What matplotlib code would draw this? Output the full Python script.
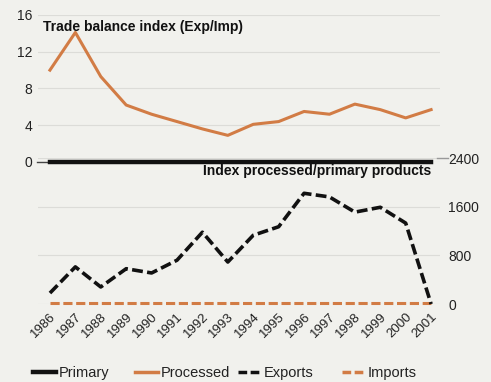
import matplotlib
matplotlib.use("Agg")
import matplotlib.pyplot as plt
from matplotlib.lines import Line2D

plt.rcParams["font.family"] = ["Liberation Sans", "DejaVu Sans"]

years = list(range(1986, 2002))
year_labels = [str(y) for y in years]
trade_balance = [10.0, 14.1, 9.3, 6.2, 5.2, 4.4, 3.6, 2.9, 4.1, 4.4, 5.5, 5.2, 6.3, 5.7, 4.8, 5.7]
primary_line = [0] * 16
exports = [180, 610, 280, 580, 510, 720, 1180, 690, 1130, 1270, 1820, 1760, 1510, 1590, 1330, 0]
imports = [20] * 16

top_ticks = [0, 4, 8, 12, 16]
bot_ticks = [0, 800, 1600, 2400]
legend_labels = ["Primary", "Processed", "Exports", "Imports"]

bg = "#f1f1ed"
orange = "#d27c45"
grid = "#dcdcd8"
dash = (0, (3, 1.2))

fig = plt.figure(figsize=(4.91, 3.82), dpi=100, facecolor=bg)
W, H = 491, 382
xl, xr = 38, 440
x0, x1 = 1985.53, 2001.35

def ax_rect(left, right, top, bottom):
    return [left / W, (H - bottom) / H, (right - left) / W, (bottom - top) / H]

ax1 = fig.add_axes(ax_rect(xl, xr, 15, 162))
ax2 = fig.add_axes(ax_rect(xl, xr, 158, 304))
for ax in (ax1, ax2):
    ax.set_facecolor("none")
    for s in ax.spines.values():
        s.set_visible(False)
    ax.set_xlim(x0, x1)

# top panel
ax1.set_ylim(0, 16)
ax1.set_yticks(top_ticks)
ax1.set_yticklabels([str(t) for t in top_ticks], fontsize=10, color="#222222")
ax1.tick_params(axis="y", length=0, pad=4)
ax1.set_xticks([])
for t in top_ticks:
    ax1.axhline(t, color=grid, lw=0.8, zorder=0)
ax1.plot([x0 - 0.05, x0 + 0.35], [0, 0], color="#444444", lw=1, clip_on=False)
ax1.plot(years, trade_balance, color=orange, lw=2.2, zorder=3, clip_on=False)
ax1.plot(years, primary_line, color="#111111", lw=3.2, zorder=4, clip_on=False)
ax1.text(1985.72, 14.3, "Trade balance index (Exp/Imp)", fontsize=10, fontweight="bold",
         color="#111111", zorder=5)

# bottom panel
ax2.set_ylim(0, 2400)
ax2.yaxis.tick_right()
ax2.set_yticks(bot_ticks)
ax2.set_yticklabels([str(t) for t in bot_ticks], fontsize=10, color="#222222")
ax2.tick_params(axis="y", length=0, pad=6)
for t in bot_ticks:
    ax2.axhline(t, color=grid, lw=0.8, zorder=0)
ax2.plot([x1 - 0.1, x1 + 0.3], [2400, 2400], color="#999999", lw=1, clip_on=False)
ax2.plot(years, imports, color=orange, lw=2.2, ls=dash, zorder=3, clip_on=False)
ax2.plot(years, exports, color="#111111", lw=2.6, ls=dash, zorder=4, clip_on=False)
ax2.text(2001.0, 2300, "Index processed/primary products", fontsize=10, fontweight="bold",
         color="#111111", ha="right", va="top", zorder=5)
ax2.set_xticks(years)
ax2.set_xticklabels(year_labels, rotation=45, ha="right", rotation_mode="anchor",
                    fontsize=9.5, color="#222222")
ax2.tick_params(axis="x", length=0, pad=5)

# legend drawn manually in pixel positions
styles = [
    dict(color="#111111", lw=3.2),
    dict(color=orange, lw=2.5),
    dict(color="#111111", lw=2.5, ls=(0, (2.5, 1))),
    dict(color=orange, lw=2.5, ls=(0, (2.5, 1))),
]
starts = [33, 135, 238, 342]
ly = (H - 373) / H
for sx, st, lab in zip(starts, styles, legend_labels):
    fig.add_artist(Line2D([sx / W, (sx + 23) / W], [ly + 1 / H, ly + 1 / H],
                          transform=fig.transFigure, **st))
    fig.text((sx + 26) / W, ly, lab, fontsize=10.5, color="#222222", va="center")

fig.savefig("out.png", dpi=100, facecolor=bg)
